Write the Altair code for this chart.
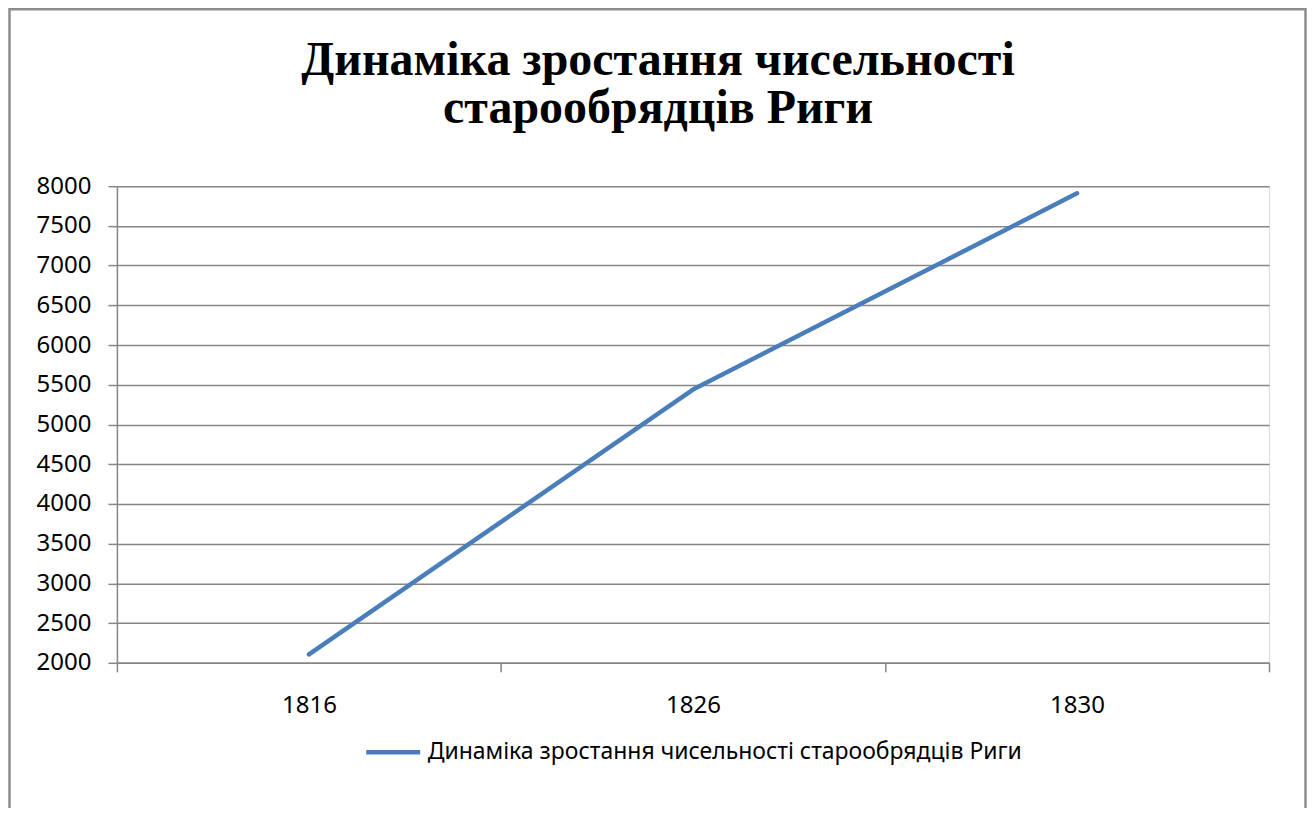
import json
import altair as alt
import pandas as pd

# ---- data ----
years = ["1816", "1826", "1830"]
values = [2105, 5440, 7910]
series_name = "Динаміка зростання чисельності старообрядців Риги"
title_lines = ["Динаміка зростання чисельності", "старообрядців Риги"]
y_ticks = [2000, 2500, 3000, 3500, 4000, 4500, 5000, 5500, 6000, 6500, 7000, 7500, 8000]

df = pd.DataFrame({
    "idx": [i + 0.5 for i in range(len(years))],
    "year": years,
    "value": values,
    "series": [series_name] * len(years),
})

n = len(years)
x_vals = [i * 0.5 for i in range(2 * n + 1)]
label_expr = "datum.value % 1 == 0.5 ? " + json.dumps(years) + "[floor(datum.value)] : ''"

GRID = "#868686"
LABEL_FONT = "Noto Sans"

W, H = 1153, 477
PAD_L, PAD_T, PAD_R, PAD_B = 109, 178, 38, 145

x_enc = alt.X(
    "idx:Q",
    scale=alt.Scale(domain=[0, n], nice=False, zero=False),
    axis=alt.Axis(
        values=x_vals,
        labelExpr=label_expr,
        title=None,
        grid=False,
        domainColor=GRID,
        domainWidth=1.5,
        tickColor=GRID,
        tickWidth=1.5,
        tickSize=9,
        tickOpacity={"condition": {"test": "datum.value % 1 != 0", "value": 0}, "value": 1},
        labelPadding=22,
        labelFont=LABEL_FONT,
        labelFontSize=24,
        labelColor="black",
        labelBaseline="top",
        labelFlush=False,
        labelOverlap=False,
    ),
)

y_enc = alt.Y(
    "value:Q",
    scale=alt.Scale(domain=[2000, 8000], nice=False, zero=False),
    axis=alt.Axis(
        values=y_ticks,
        format="d",
        title=None,
        grid=True,
        gridColor=GRID,
        gridWidth=1.5,
        domainColor=GRID,
        domainWidth=1.5,
        tickColor=GRID,
        tickWidth=1.5,
        tickSize=9,
        labelPadding=17,
        labelFont=LABEL_FONT,
        labelFontSize=24,
        labelColor="black",
        labelOverlap=False,
    ),
)

line = alt.Chart(df).mark_line(
    strokeWidth=4.5, strokeCap="round", strokeJoin="round"
).encode(
    x=x_enc,
    y=y_enc,
    color=alt.Color(
        "series:N",
        scale=alt.Scale(range=["#4A7EBB"]),
        legend=alt.Legend(
            title=None,
            orient="none",
            legendX=247,
            legendY=537,
            symbolType="stroke",
            symbolSize=2916,
            symbolStrokeWidth=4.5,
            symbolStrokeColor="#4A7EBB",
            labelFont=LABEL_FONT,
            labelFontSize=23,
            labelColor="black",
            labelOffset=5,
            labelLimit=0,
        ),
    ),
)

one_row = pd.DataFrame({"a": [0]})

border = alt.Chart(one_row).mark_rect(
    fill=None, stroke="#8c8c8c", strokeWidth=2.5
).encode(
    x=alt.value(-107.5),
    x2=alt.value(1189.5),
    y=alt.value(-177),
    y2=alt.value(640),
)

title_layers = [
    alt.Chart(one_row).mark_text(
        font="Liberation Serif", fontSize=48, fontWeight="bold", color="black",
        align="center", baseline="alphabetic",
    ).encode(
        text=alt.value(txt),
        x=alt.value(541.5),
        y=alt.value(base_y),
    )
    for txt, base_y in zip(title_lines, [-111, -63])
]

chart = alt.layer(border, *title_layers, line).properties(
    width=W,
    height=H,
    padding={"left": PAD_L, "top": PAD_T, "right": PAD_R, "bottom": PAD_B},
    autosize=alt.AutoSizeParams(type="none"),
).configure_view(stroke=None).configure(background="white")

chart.save("out.html", embed_options={"renderer": "svg", "actions": False})
